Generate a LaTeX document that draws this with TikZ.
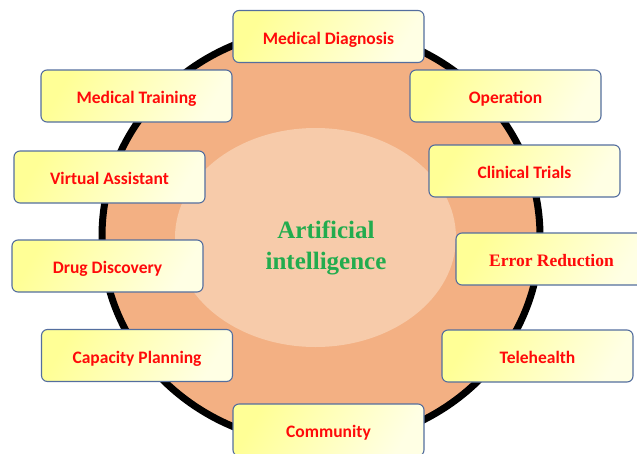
\documentclass[tikz,border=0pt]{standalone}
\usepackage{fontspec}
\setmainfont{Carlito}
\newfontfamily\timesfont{Liberation Serif}
\usetikzlibrary{shapes.geometric}

\definecolor{ringfill}{RGB}{243,176,131}
\definecolor{corefill}{RGB}{247,203,170}
\definecolor{aigreen}{RGB}{34,172,78}
\definecolor{labelred}{RGB}{255,10,10}
\definecolor{boxedge}{RGB}{84,110,158}
\definecolor{boxlight}{RGB}{255,255,150}
\definecolor{boxpale}{RGB}{255,255,228}

\tikzset{
  topic/.style={
    draw=boxedge, line width=1.1pt, rounded corners=6pt,
    left color=boxlight, right color=boxpale, shading angle=60,
    minimum width=191pt, minimum height=52pt, inner sep=0pt,
    text height=15pt, text depth=0pt,
    font=\fontsize{17.5}{20}\selectfont\bfseries, text=labelred
  },
  topicserif/.style={topic, font=\fontsize{17.5}{20}\selectfont\timesfont\bfseries},
  hub/.style={font=\fontsize{25}{31}\selectfont\timesfont\bfseries, text=aigreen, align=center}
}

\begin{document}
\begin{tikzpicture}[x=1pt,y=-1pt]
  \useasboundingbox (0,0) rectangle (637,453);
  \begin{scope}
    \clip (0,0) rectangle (637,453);
    % outer disc with black rim
    \node[ellipse, draw=black, line width=7pt, fill=ringfill,
          minimum width=438pt, minimum height=416pt, inner sep=0pt] (rim) at (321,236) {};
    % inner light core
    \node[ellipse, fill=corefill, minimum width=281pt, minimum height=219pt,
          inner sep=0pt] (core) at (315.5,237.5) {};
    \node[hub] (ai) at (326,248) {Artificial\\intelligence};

    % application boxes around the rim
    \node[topic] (diag)  at (328.5,36.5) {Medical Diagnosis};
    \node[topic] (train) at (136.5,96)   {Medical Training};
    \node[topic] (virt)  at (109.5,177)  {Virtual Assistant};
    \node[topic] (oper)  at (505.5,96)   {Operation};
    \node[topic] (clin)  at (524.5,171)  {Clinical Trials};
    \node[topic] (drug)  at (107.5,266)  {Drug Discovery};
    \node[topic] (cap)   at (137,355.5)  {Capacity Planning};
    \node[topicserif] (err) at (551.5,259) {Error Reduction};
    \node[topic] (tele)  at (537.5,356)  {Telehealth};
    \node[topic] (comm)  at (328.5,430)  {Community};
  \end{scope}
\end{tikzpicture}
\end{document}
